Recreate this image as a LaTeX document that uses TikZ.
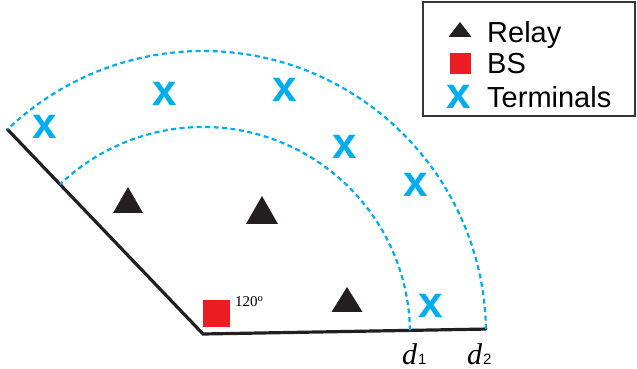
\documentclass[tikz,border=0pt]{standalone}
\usepackage{fontspec}
\setsansfont{Liberation Sans}
\newfontfamily\serifset{Liberation Serif}
\usetikzlibrary{calc}

\definecolor{relaycol}{RGB}{35,31,32}
\definecolor{bscol}{RGB}{237,28,36}
\definecolor{termcol}{RGB}{0,174,239}

\newcommand{\distlab}[1]{{\itshape d}\kern1pt{\fontsize{15}{15}\selectfont\sffamily #1}}

\tikzset{
  edge/.style={line width=3.2pt, relaycol, line cap=round},
  ring/.style={line width=2.2pt, termcol, dash pattern=on 5pt off 3.5pt},
  term/.style={inner sep=0pt, text=termcol,
               font=\fontsize{44}{44}\selectfont\sffamily\bfseries},
  legtext/.style={anchor=base west, inner sep=0pt,
                  font=\fontsize{29}{29}\selectfont\sffamily},
  dlabel/.style={anchor=base west, inner sep=0pt, text depth=0pt,
                 font=\serifset\fontsize{30}{30}\selectfont}
}

\begin{document}
\begin{tikzpicture}[x=1pt, y=1pt]
  \useasboundingbox (-203,-35) rectangle (434,334);

  % sector edges
  \coordinate (apex) at (0,0);
  \coordinate (d2end) at (1:283);
  \coordinate (d1end) at (1:207);
  \coordinate (leftend) at (133.7:283);
  \draw[edge] (leftend) -- (apex) -- (d2end);

  % coverage rings
  \draw[ring] (d1end) arc[start angle=1, end angle=133.7, radius=207];
  \draw[ring] (d2end) arc[start angle=1, end angle=133.7, radius=283];

  % base station
  \fill[bscol] (-0.5,7) rectangle (26.5,34);
  \node[anchor=base west, inner sep=0pt, font=\serifset\fontsize{15}{15}\selectfont]
    (angle) at (32,27) {120\textsuperscript{o}};

  % relays
  \foreach \rx/\ry/\rw/\rh in {-75/121/30/26, 59/110/32/28, 144/22/31/25}
    \fill[relaycol] (\rx-\rw/2,\ry) -- (\rx+\rw/2,\ry) -- (\rx,\ry+\rh) -- cycle;

  % terminals
  \foreach \tx/\ty [count=\i] in {-158/207, -38/240.5, 82/244.5,
                                   142/187, 213/149, 228/28}
    \node[term] (t\i) at (\tx,\ty) {x};

  % distance labels
  \node[dlabel] (d1) at (199,-31) {\distlab{1}};
  \node[dlabel] (d2) at (264,-31) {\distlab{2}};

  % legend
  \draw[line width=1.5pt, relaycol!90] (220,218) rectangle (432,332);
  \fill[relaycol] (245.5,297) -- (268.5,297) -- (257,312) -- cycle;
  \fill[bscol] (247,260) rectangle (268,281);
  \node[term] (legterm) at (256,237) {x};
  \node[legtext] (legrelay) at (284,291) {Relay};
  \node[legtext] (legbs) at (284,260) {BS};
  \node[legtext] (legterms) at (284,226) {Terminals};
\end{tikzpicture}
\end{document}
